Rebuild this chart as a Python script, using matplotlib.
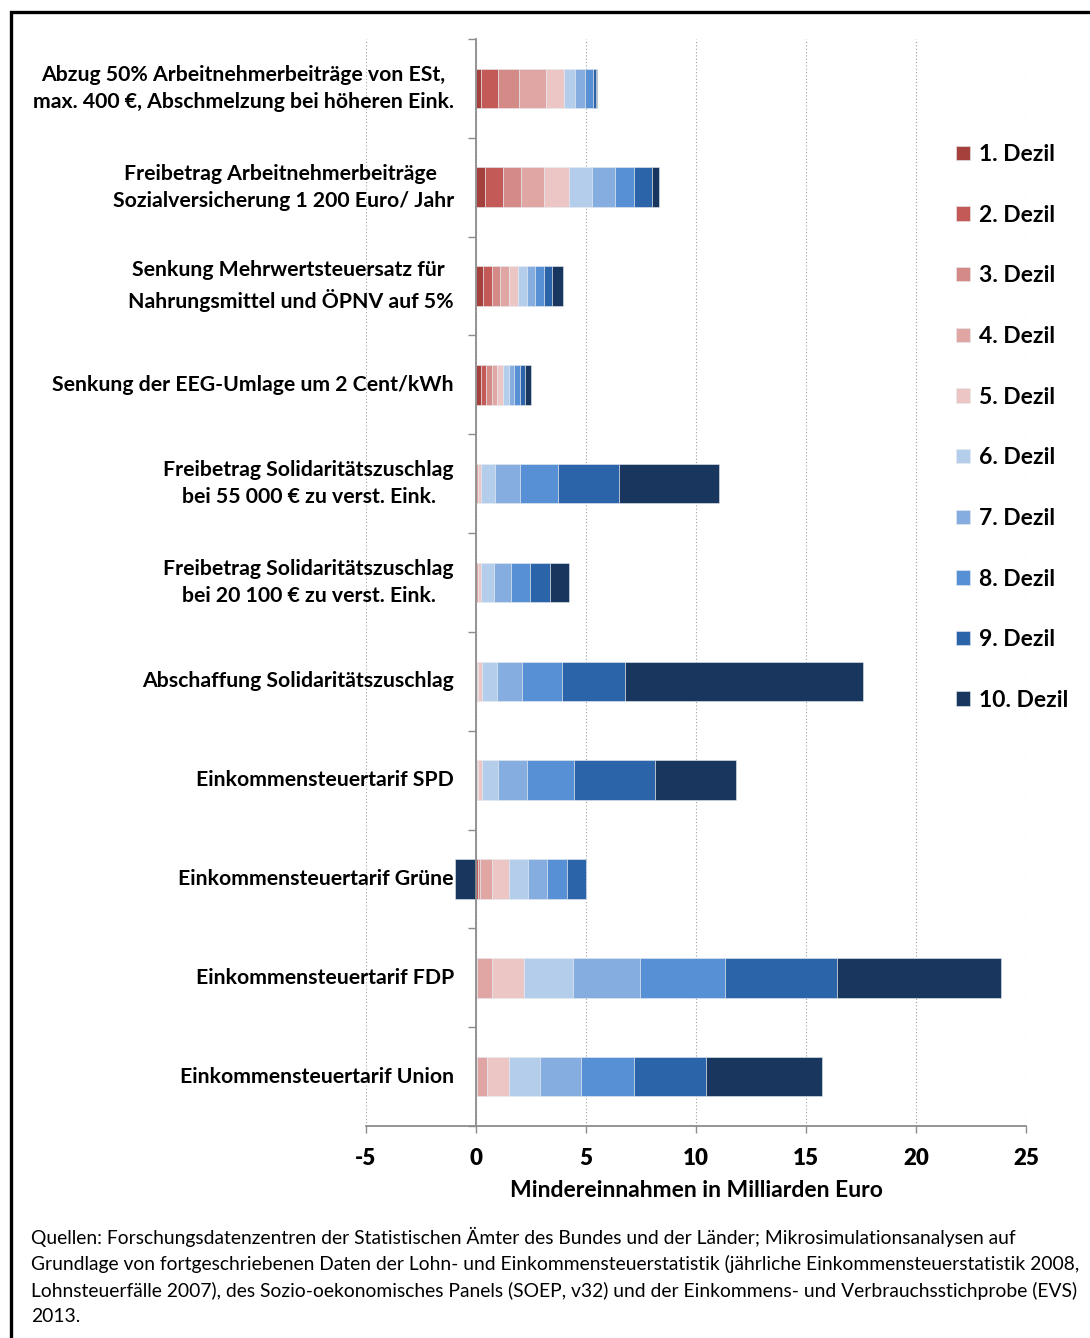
import matplotlib
matplotlib.use("Agg")
import matplotlib.pyplot as plt
from matplotlib.patches import Rectangle
import numpy as np

plt.rcParams['font.family'] = ['Lato', 'DejaVu Sans']

categories = [
    "Abzug 50% Arbeitnehmerbeiträge von ESt,\nmax. 400 €, Abschmelzung bei höheren Eink.",
    "Freibetrag Arbeitnehmerbeiträge \nSozialversicherung 1 200 Euro/ Jahr",
    "Senkung Mehrwertsteuersatz für \nNahrungsmittel und ÖPNV auf 5%",
    "Senkung der EEG-Umlage um 2 Cent/kWh",
    "Freibetrag Solidaritätszuschlag\nbei 55 000 € zu verst. Eink.",
    "Freibetrag Solidaritätszuschlag\nbei 20 100 € zu verst. Eink.",
    "Abschaffung Solidaritätszuschlag",
    "Einkommensteuertarif SPD",
    "Einkommensteuertarif Grüne",
    "Einkommensteuertarif FDP",
    "Einkommensteuertarif Union",
]

dezil_labels = [f"{i}. Dezil" for i in range(1, 11)]

# values per decile (Mrd. Euro), one entry per category (same order as categories)
dezil_1 = [0.24, 0.42, 0.32, 0.23, 0.00, 0.00, 0.00, 0.00, 0.02, 0.00, 0.00]
dezil_2 = [0.76, 0.81, 0.41, 0.22, 0.00, 0.00, 0.01, 0.01, 0.05, 0.01, 0.01]
dezil_3 = [0.97, 0.82, 0.36, 0.28, 0.02, 0.02, 0.03, 0.03, 0.11, 0.05, 0.03]
dezil_4 = [1.21, 1.06, 0.39, 0.24, 0.05, 0.05, 0.07, 0.06, 0.56, 0.65, 0.48]
dezil_5 = [0.84, 1.13, 0.43, 0.26, 0.17, 0.17, 0.18, 0.17, 0.78, 1.46, 0.98]
dezil_6 = [0.50, 1.02, 0.41, 0.25, 0.64, 0.58, 0.66, 0.73, 0.84, 2.25, 1.43]
dezil_7 = [0.45, 1.04, 0.36, 0.25, 1.12, 0.77, 1.14, 1.32, 0.87, 3.04, 1.86]
dezil_8 = [0.36, 0.87, 0.40, 0.27, 1.73, 0.86, 1.82, 2.12, 0.89, 3.85, 2.38]
dezil_9 = [0.12, 0.81, 0.36, 0.23, 2.75, 0.90, 2.85, 3.68, 0.88, 5.08, 3.28]
dezil_10 = [0.03, 0.35, 0.53, 0.25, 4.58, 0.89, 10.85, 3.68, -0.94, 7.46, 5.26]

dezil_series = [dezil_1, dezil_2, dezil_3, dezil_4, dezil_5,
                dezil_6, dezil_7, dezil_8, dezil_9, dezil_10]

colors = ["#A5403D", "#C45A57", "#D48B88", "#E0A6A4", "#ECC6C5",
          "#B4CDEB", "#86ADDF", "#5790D4", "#2B64A8", "#18365E"]

xticks = [-5, 0, 5, 10, 15, 20, 25]
xlabel = "Mindereinnahmen in Milliarden Euro"
source = ("Quellen: Forschungsdatenzentren der Statistischen Ämter des Bundes und der Länder; Mikrosimulationsanalysen auf\n"
          "Grundlage von fortgeschriebenen Daten der Lohn- und Einkommensteuerstatistik (jährliche Einkommensteuerstatistik 2008,\n"
          "Lohnsteuerfälle 2007), des Sozio-oekonomisches Panels (SOEP, v32) und der Einkommens- und Verbrauchsstichprobe (EVS)\n"
          "2013.")

W, H = 1090, 1338
fig = plt.figure(figsize=(W / 100, H / 100), dpi=100)
fig.patch.set_facecolor("white")

ax = fig.add_axes([366 / W, 1 - 1126 / H, (1026 - 366) / W, (1126 - 39) / H])

y = np.arange(len(categories))
pos_left = np.zeros(len(categories))
neg_left = np.zeros(len(categories))
for vals, col, lab in zip(dezil_series, colors, dezil_labels):
    v = np.array(vals, dtype=float)
    left = np.where(v >= 0, pos_left, neg_left)
    ax.barh(y, v, left=left, height=0.4, color=col, label=lab,
            edgecolor="#e6ebf0", linewidth=0.4, zorder=3)
    pos_left += np.where(v >= 0, v, 0)
    neg_left += np.where(v < 0, v, 0)

ax.set_xlim(-5, 25)
ax.set_ylim(len(categories) - 0.5, -0.5)

# spines
for s in ["top", "right"]:
    ax.spines[s].set_visible(False)
ax.spines["left"].set_position(("data", 0))
ax.spines["left"].set_color("#8c8c8c")
ax.spines["left"].set_linewidth(1.3)
ax.spines["left"].set_zorder(4)
ax.spines["bottom"].set_color("#8c8c8c")
ax.spines["bottom"].set_linewidth(1.3)

# x axis
ax.set_xticks(xticks)
ax.set_xticklabels([str(t) for t in xticks])
ax.tick_params(axis="x", direction="out", length=5, width=1, color="#8c8c8c",
               pad=11, labelsize=16)
for t in ax.get_xticklabels():
    t.set_fontweight("heavy")
ax.set_xlabel(xlabel, fontsize=16.5, fontweight="bold", labelpad=8)
ax.grid(axis="x", linestyle=(0, (1, 2)), color="#a0a0a0", linewidth=0.8, zorder=0)

# y axis: boundary ticks (major), labels at centers (minor)
ax.set_yticks(np.arange(-0.5, len(categories), 1.0))
ax.set_yticklabels([])
ax.tick_params(axis="y", which="major", direction="out", length=6, width=1, color="#8c8c8c")
ax.set_yticks(y, categories, minor=True)
ax.tick_params(axis="y", which="minor", length=0, pad=16, labelsize=15.3)
for t in ax.get_yticklabels(minor=True):
    t.set_fontweight("bold")
    t.set_multialignment("center")
    t.set_linespacing(1.45)
    t.set_verticalalignment("center")

leg = ax.legend(loc="upper left", bbox_to_anchor=(956 / W, 1 - 144 / H),
                bbox_transform=fig.transFigure, frameon=False,
                prop={"size": 16.5, "weight": "bold"},
                handlelength=0.6, handleheight=0.6, handletextpad=0.4,
                labelspacing=1.73, borderaxespad=0, borderpad=0)

fig.text(31 / W, 1 - 1227 / H, source, fontsize=13.9, va="top", ha="left",
         linespacing=1.55)

border = Rectangle((11 / W, -0.05), 1.2, 1 - 12 / H + 0.05, transform=fig.transFigure,
                   fill=False, edgecolor="black", linewidth=2.4, clip_on=False)
fig.add_artist(border)

fig.savefig("out.png", dpi=100, facecolor="white")
